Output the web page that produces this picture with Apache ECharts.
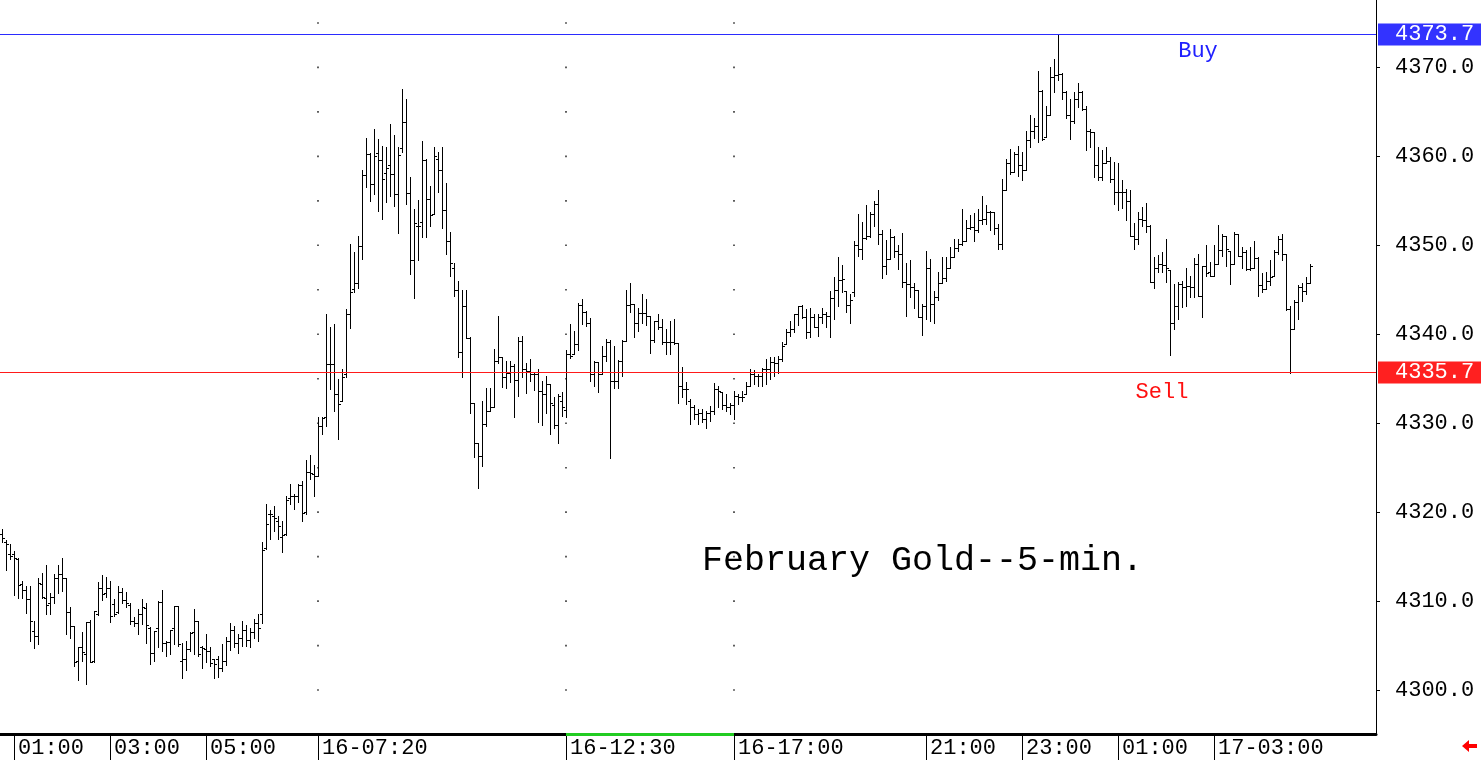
<!DOCTYPE html>
<html>
<head>
<meta charset="utf-8">
<script src="https://cdn.jsdelivr.net/npm/echarts@6/dist/echarts.min.js"></script>
<style>
html,body{margin:0;padding:0;background:#fff;}
#chart{width:1481px;height:762px;}
</style>
</head>
<body>
<div id="chart"></div>
<script>
// ---- data (5-minute OHLC bars, February Gold) ----
const opens = [
4317.5,4316.7,4315.3,4315.3,4314.7,4311.9,4311.3,4310.2,4306.6,4306.1,
4311.9,4310.4,4309.8,4310.5,4312.6,4313.0,4312.6,4308.8,4307.2,4303.3,
4304.8,4304.0,4307.6,4303.3,4308.5,4311.5,4310.9,4311.5,4309.7,4308.8,
4311.0,4310.1,4309.6,4307.8,4307.5,4308.5,4309.2,4307.0,4304.2,4307.0,
4309.9,4305.3,4305.4,4307.0,4309.4,4303.3,4303.5,4304.6,4306.5,4307.8,
4304.8,4304.6,4304.4,4303.5,4303.5,4302.5,4303.3,4305.5,4306.8,4305.3,
4305.8,4306.8,4305.6,4306.5,4307.5,4308.5,4316.0,4319.8,4319.6,4319.0,
4317.2,4317.5,4321.6,4321.8,4321.8,4323.0,4320.0,4324.5,4324.3,4324.1,
4329.7,4330.7,4336.7,4336.7,4333.3,4332.5,4335.5,4342.3,4345.1,4345.8,
4349.9,4357.9,4360.3,4356.9,4360.4,4359.6,4358.1,4359.0,4358.0,4355.8,
4360.9,4363.9,4355.9,4348.3,4352.2,4352.6,4359.6,4355.2,4353.5,4359.7,
4358.5,4354.0,4350.5,4347.5,4345.0,4338.0,4343.2,4339.6,4332.3,4327.8,
4326.3,4329.9,4331.4,4331.8,4337.0,4337.5,4335.2,4335.6,4336.4,4334.9,
4339.2,4336.1,4335.9,4335.5,4335.5,4333.6,4333.3,4334.4,4332.0,4329.8,
4332.5,4331.5,4337.8,4337.8,4338.9,4343.3,4342.5,4341.3,4335.5,4336.9,
4335.5,4337.6,4339.1,4334.8,4334.8,4337.0,4339.2,4343.3,4343.4,4341.3,
4342.4,4342.4,4342.1,4339.3,4341.5,4340.8,4339.1,4339.1,4339.1,4339.0,
4334.2,4333.8,4332.5,4331.8,4331.0,4331.2,4330.5,4331.1,4331.4,4333.8,
4333.5,4332.0,4331.8,4332.0,4333.1,4332.9,4333.3,4334.2,4335.5,4335.3,
4335.3,4336.1,4336.1,4336.9,4336.8,4337.2,4338.9,4340.2,4340.6,4342.3,
4343.2,4341.9,4340.2,4341.9,4340.8,4341.9,4342.3,4342.0,4344.1,4345.0,
4346.1,4344.9,4343.3,4344.8,4350.0,4349.6,4350.8,4351.1,4353.5,4354.7,
4351.3,4347.7,4348.5,4350.9,4349.4,4349.0,4345.9,4345.7,4345.3,4345.0,
4341.9,4343.2,4347.5,4343.4,4344.2,4345.8,4346.3,4347.5,4348.7,4349.7,
4350.2,4350.5,4352.0,4352.1,4351.7,4352.9,4353.0,4353.7,4353.7,4352.0,
4350.2,4356.2,4359.2,4358.2,4360.3,4359.0,4358.5,4361.8,4362.9,4363.4,
4367.3,4362.2,4364.6,4368.9,4369.2,4369.3,4367.2,4364.6,4364.0,4366.5,
4367.2,4365.3,4362.9,4362.7,4359.0,4357.7,4359.3,4359.5,4357.4,4356.0,
4356.0,4356.0,4355.0,4351.1,4350.7,4353.0,4352.9,4352.2,4345.9,4347.5,
4347.9,4347.8,4347.2,4341.3,4343.2,4345.7,4345.3,4345.4,4345.3,4347.9,
4344.3,4347.7,4347.0,4346.6,4347.9,4349.5,4351.1,4349.4,4347.9,4351.3,
4348.8,4349.2,4347.3,4347.5,4348.6,4345.5,4345.1,4346.0,4346.6,4349.2,
4350.7,4349.0,4342.8,4340.6,4343.6,4345.3,4344.9,4345.8
];
const highs = [
4318.1,4316.9,4316.4,4315.6,4314.8,4312.3,4311.7,4311.7,4307.8,4312.6,
4313.2,4314.1,4310.9,4313.0,4314.1,4314.9,4312.6,4309.3,4307.2,4304.8,
4306.5,4307.6,4307.9,4308.9,4312.1,4312.9,4312.7,4312.3,4310.2,4311.7,
4311.5,4311.0,4309.8,4308.2,4309.1,4310.2,4309.8,4307.1,4306.6,4310.0,
4311.3,4305.5,4306.8,4309.4,4309.4,4305.3,4305.5,4306.5,4309.1,4307.8,
4305.0,4306.3,4304.8,4303.5,4303.8,4305.2,4306.0,4307.5,4307.2,4306.3,
4307.8,4307.3,4307.0,4308.0,4308.5,4316.6,4320.9,4320.2,4320.7,4319.6,
4319.0,4321.8,4323.2,4322.0,4323.2,4323.5,4325.9,4326.4,4325.3,4330.7,
4330.7,4342.3,4340.8,4341.2,4335.0,4336.1,4342.8,4350.2,4349.2,4351.1,
4358.5,4362.1,4360.4,4363.1,4362.0,4361.2,4361.0,4363.6,4362.4,4361.1,
4367.6,4366.5,4357.7,4354.1,4355.1,4361.7,4359.7,4356.7,4361.1,4360.5,
4361.0,4357.0,4351.5,4348.0,4346.0,4345.0,4345.0,4339.7,4332.3,4327.8,
4332.5,4334.0,4334.0,4338.3,4342.0,4337.5,4337.0,4337.0,4336.7,4339.7,
4339.8,4336.8,4337.2,4335.7,4336.1,4334.8,4335.3,4334.4,4333.0,4333.3,
4333.5,4338.2,4341.1,4340.4,4343.5,4344.0,4342.6,4341.8,4337.0,4336.9,
4338.7,4339.5,4339.3,4338.7,4337.1,4339.3,4345.0,4345.8,4343.4,4343.0,
4344.5,4344.0,4342.1,4341.5,4342.3,4341.7,4340.6,4341.5,4341.7,4339.0,
4336.3,4334.6,4332.7,4332.0,4331.6,4331.6,4331.4,4331.9,4334.5,4334.2,
4333.5,4333.3,4332.3,4333.6,4333.3,4333.6,4334.6,4336.1,4336.0,4335.5,
4336.2,4337.2,4337.5,4337.4,4337.6,4339.1,4340.6,4341.5,4342.3,4343.2,
4343.3,4342.8,4343.0,4342.3,4342.3,4343.0,4342.5,4344.9,4346.4,4348.7,
4347.8,4344.9,4344.5,4350.5,4353.5,4352.6,4354.5,4353.7,4355.0,4356.2,
4351.7,4350.6,4351.8,4351.0,4350.0,4351.4,4348.0,4348.3,4345.8,4345.0,
4343.4,4349.4,4348.5,4344.9,4347.0,4348.7,4348.7,4349.8,4350.7,4350.7,
4354.1,4352.8,4353.4,4353.6,4354.1,4355.6,4354.5,4353.9,4353.7,4352.4,
4357.5,4359.7,4360.8,4360.5,4361.2,4360.5,4362.9,4364.6,4364.3,4369.6,
4367.5,4365.7,4370.1,4371.0,4373.7,4369.4,4367.4,4366.5,4367.2,4368.3,
4367.4,4365.7,4363.1,4362.7,4361.1,4360.7,4361.1,4359.9,4359.4,4359.2,
4357.3,4356.3,4356.2,4352.5,4353.8,4354.3,4354.8,4352.3,4348.7,4348.9,
4349.3,4350.7,4347.2,4345.6,4345.9,4346.0,4347.4,4346.6,4348.6,4349.0,
4347.7,4350.0,4348.1,4350.0,4352.3,4351.3,4351.1,4349.4,4351.5,4351.3,
4349.8,4349.5,4349.8,4350.5,4348.7,4346.9,4347.0,4348.4,4349.5,4351.0,
4351.3,4349.0,4343.2,4343.8,4345.5,4345.8,4346.4,4347.9
];
const lows = [
4316.6,4313.5,4314.7,4310.7,4310.4,4310.4,4308.7,4305.5,4304.7,4305.2,
4310.4,4308.5,4308.5,4309.8,4310.9,4311.1,4306.3,4305.9,4302.7,4301.1,
4303.3,4300.7,4303.1,4303.1,4308.4,4310.1,4310.5,4307.6,4308.3,4308.7,
4309.8,4309.3,4307.4,4307.2,4306.3,4307.4,4305.3,4302.9,4303.3,4304.8,
4304.4,4303.8,4304.0,4305.2,4305.0,4301.4,4302.2,4304.4,4304.0,4303.8,
4302.5,4303.1,4302.7,4301.4,4301.5,4302.1,4302.8,4304.5,4304.8,4304.2,
4305.0,4305.0,4304.8,4305.8,4305.5,4307.5,4315.9,4317.0,4317.9,4317.0,
4315.5,4317.4,4320.9,4320.3,4321.1,4319.0,4319.8,4323.7,4321.8,4324.1,
4328.8,4329.7,4333.8,4331.4,4328.2,4332.5,4335.2,4340.7,4344.7,4345.2,
4348.5,4356.6,4355.0,4355.8,4353.9,4353.0,4354.9,4355.5,4354.4,4351.4,
4360.5,4354.7,4346.8,4344.1,4348.4,4350.9,4350.9,4352.2,4353.5,4356.0,
4352.0,4349.0,4346.5,4344.3,4337.5,4335.2,4339.6,4331.1,4326.2,4322.7,
4325.2,4329.7,4331.4,4331.8,4336.8,4334.1,4334.0,4334.6,4330.7,4333.1,
4335.2,4333.4,4334.8,4333.7,4330.1,4329.8,4331.2,4328.8,4329.5,4327.8,
4330.8,4330.7,4337.3,4337.8,4338.2,4341.1,4340.9,4334.8,4334.2,4333.5,
4335.5,4337.0,4326.1,4334.0,4334.0,4335.3,4339.2,4342.5,4339.7,4340.4,
4341.3,4341.0,4337.9,4339.1,4340.6,4338.9,4337.8,4337.8,4338.9,4332.3,
4332.9,4332.2,4329.9,4330.5,4329.9,4330.1,4329.5,4330.3,4331.0,4331.8,
4331.6,4331.4,4331.0,4330.5,4332.2,4332.5,4333.3,4334.2,4334.4,4334.2,
4334.2,4334.4,4335.0,4335.3,4335.6,4337.0,4338.9,4339.8,4340.2,4341.0,
4341.8,4339.6,4339.7,4340.8,4339.8,4341.3,4340.8,4339.7,4341.7,4343.2,
4344.7,4342.5,4341.3,4344.3,4348.8,4348.5,4350.7,4350.9,4352.2,4350.2,
4346.3,4346.8,4348.5,4348.7,4347.3,4345.3,4342.0,4344.2,4343.0,4341.9,
4339.9,4341.7,4341.5,4341.3,4343.8,4345.8,4346.0,4347.5,4348.7,4349.4,
4350.0,4350.5,4351.8,4350.5,4351.5,4352.4,4352.4,4351.7,4351.3,4349.6,
4349.6,4356.2,4358.0,4358.2,4357.8,4357.3,4358.5,4361.0,4362.1,4361.6,
4361.8,4362.2,4364.6,4367.2,4368.6,4366.5,4364.3,4362.0,4363.7,4365.5,
4365.2,4360.7,4361.0,4357.7,4357.3,4357.3,4359.2,4357.1,4354.7,4354.0,
4354.2,4352.9,4351.1,4349.6,4350.2,4352.2,4351.5,4345.9,4345.2,4347.0,
4347.0,4345.9,4337.7,4340.6,4341.7,4343.1,4343.2,4344.2,4344.2,4344.3,
4341.9,4346.6,4346.6,4346.6,4347.9,4348.8,4347.7,4345.7,4347.9,4348.8,
4347.5,4347.2,4347.2,4347.5,4344.3,4344.7,4345.1,4345.5,4346.6,4349.0,
4348.3,4342.7,4335.7,4340.6,4341.7,4343.7,4344.5,4345.8
];
const closes = [
4317.1,4316.4,4315.1,4314.8,4311.8,4311.3,4310.2,4307.8,4306.1,4312.0,
4310.5,4309.6,4310.5,4312.6,4313.1,4312.6,4308.8,4307.2,4303.2,4304.8,
4304.3,4307.6,4303.2,4308.9,4311.5,4310.8,4311.5,4308.3,4308.6,4311.0,
4310.1,4309.8,4307.8,4307.5,4308.5,4309.3,4307.3,4304.2,4306.6,4309.9,
4305.3,4305.4,4306.7,4309.4,4305.2,4303.5,4304.6,4306.4,4307.8,4304.0,
4304.7,4304.4,4303.0,4302.9,4302.5,4303.3,4305.5,4306.8,4305.3,4305.8,
4306.8,4305.6,4306.5,4307.5,4307.0,4315.8,4318.7,4319.8,4319.4,4318.5,
4317.4,4321.4,4321.8,4321.8,4323.0,4319.9,4324.5,4324.4,4324.1,4329.7,
4330.6,4336.7,4336.7,4333.3,4332.2,4335.2,4342.3,4344.7,4345.8,4349.9,
4357.9,4360.3,4356.9,4360.0,4359.6,4357.5,4358.7,4358.0,4355.8,4360.2,
4363.9,4355.9,4348.3,4352.5,4352.2,4359.6,4355.2,4353.4,4360.0,4358.5,
4354.0,4350.5,4348.0,4345.0,4338.0,4343.2,4339.6,4332.3,4327.8,4326.3,
4329.9,4331.4,4331.8,4337.0,4337.5,4335.2,4335.6,4336.4,4334.9,4339.2,
4336.1,4335.9,4335.5,4335.5,4333.6,4333.3,4334.4,4332.3,4329.8,4333.1,
4331.8,4337.8,4337.6,4338.9,4343.3,4342.5,4341.3,4335.5,4336.9,4335.5,
4337.6,4339.1,4334.8,4334.8,4337.0,4339.2,4343.3,4343.4,4341.3,4342.4,
4342.4,4342.1,4339.3,4341.5,4340.8,4339.1,4339.1,4339.1,4339.0,4334.2,
4333.8,4333.8,4331.8,4331.0,4331.2,4330.5,4331.1,4331.4,4333.8,4333.6,
4332.0,4331.8,4332.0,4333.1,4332.9,4332.9,4334.2,4335.5,4335.3,4335.3,
4336.1,4336.1,4336.9,4336.8,4337.2,4338.7,4340.2,4340.6,4342.3,4343.2,
4341.9,4340.2,4341.9,4340.8,4341.9,4342.3,4342.0,4344.1,4345.0,4346.1,
4346.2,4343.3,4343.8,4350.0,4349.6,4350.8,4351.1,4353.5,4354.7,4351.3,
4347.7,4348.5,4350.9,4349.4,4349.0,4345.9,4345.7,4345.3,4345.0,4341.9,
4343.2,4347.5,4343.4,4344.2,4345.8,4346.3,4347.5,4348.7,4349.7,4350.2,
4350.5,4352.0,4352.1,4351.7,4352.9,4353.0,4353.7,4353.7,4352.0,4350.2,
4356.2,4359.2,4358.2,4360.3,4359.0,4358.5,4361.8,4362.9,4363.4,4367.3,
4362.0,4364.6,4368.9,4369.2,4369.3,4367.2,4364.6,4364.0,4366.5,4367.2,
4365.3,4362.9,4362.7,4359.0,4357.7,4359.3,4359.5,4357.4,4356.0,4356.0,
4356.0,4355.0,4351.1,4350.7,4353.0,4352.9,4352.2,4345.9,4347.5,4347.9,
4347.8,4347.5,4341.3,4343.2,4345.7,4345.3,4345.4,4345.3,4347.9,4344.3,
4347.7,4346.9,4346.6,4347.9,4349.5,4351.1,4349.6,4347.9,4351.3,4348.8,
4349.2,4347.3,4347.5,4348.6,4345.5,4345.1,4346.0,4346.4,4349.2,4350.7,
4349.0,4342.8,4340.6,4343.6,4345.3,4344.9,4345.8,4347.7
];

// sessions of 5-minute bars (category axis slots, incl. empty space on the right)
const sessions = [ { start: "00:45", bars: 183 }, { start: "17:00", bars: 161 } ];
// x-axis tick labels and the bar slot where each sits
const xTickLabels = ["01:00","03:00","05:00","16-07:20","16-12:30","16-17:00","21:00","23:00","01:00","17-03:00"];
const xTickSlots  = [3, 27, 51, 79, 141, 183, 231, 255, 279, 303];
// y-axis tick labels
const yTickValues = [4300, 4310, 4320, 4330, 4340, 4350, 4360, 4370];
// reference levels
const buyLevel = 4373.7;
const sellLevel = 4335.7;
const lastPrice = 4347.7;
// session-break dotted verticals and their dot levels
const sessionBreakSlots = [79, 141, 183];
const dotLevels = [4300,4305,4310,4315,4320,4325,4330,4335,4340,4345,4350,4355,4360,4365,4370,4375];
const highlightRange = [141, 183];

const Y_MIN = 4295.06, Y_MAX = 4377.58;
const MONO = "'Liberation Mono','DejaVu Sans Mono',monospace";

// build categories (time strings)
const categories = [];
sessions.forEach(s => {
  let [h, m] = s.start.split(":").map(Number);
  for (let i = 0; i < s.bars; i++) {
    categories.push(String(h).padStart(2,"0") + ":" + String(m).padStart(2,"0"));
    m += 5; if (m >= 60) { m -= 60; h = (h + 1) % 24; }
  }
});
const tickMap = {};
xTickSlots.forEach((s, i) => tickMap[s] = xTickLabels[i]);
const isTick = (i) => Object.prototype.hasOwnProperty.call(tickMap, i);

const ohlc = opens.map((o, i) => [i, o, highs[i], lows[i], closes[i]]);
const dots = [];
sessionBreakSlots.forEach(s => dotLevels.forEach(v => dots.push([s, v])));

const chart = echarts.init(document.getElementById('chart'), null, { renderer: 'canvas' });

function renderBar(params, api) {
  const i = api.value(0);
  const pO = api.coord([i, api.value(1)]);
  const pH = api.coord([i, api.value(2)]);
  const pL = api.coord([i, api.value(3)]);
  const pC = api.coord([i, api.value(4)]);
  const px = Math.round(pH[0]);
  const xc = px + 0.5;
  const st = { stroke: '#000', lineWidth: 1 };
  const yo = Math.round(pO[1]) + 0.5, yc = Math.round(pC[1]) + 0.5;
  return {
    type: 'group',
    children: [
      { type: 'line', shape: { x1: xc, y1: Math.round(pH[1]), x2: xc, y2: Math.round(pL[1]) + 1 }, style: st },
      { type: 'line', shape: { x1: px - 2, y1: yo, x2: px, y2: yo }, style: st },
      { type: 'line', shape: { x1: px + 1, y1: yc, x2: px + 3, y2: yc }, style: st }
    ]
  };
}

const boxLabel = (text, bg) => ({
  show: true, position: 'end', distance: 2, formatter: text,
  color: '#fff', backgroundColor: bg, fontFamily: MONO, fontSize: 22,
  lineHeight: 19, padding: [2, 10, 1, 17]
});

const option = {
  animation: false,
  backgroundColor: '#ffffff',
  title: {
    text: 'February Gold--5-min.', left: 697, top: 538,
    textStyle: { fontFamily: MONO, fontSize: 35, fontWeight: 'normal', color: '#000' }
  },
  grid: { left: 0, right: 105, top: 0, bottom: 28, containLabel: false },
  xAxis: {
    type: 'category', data: categories, boundaryGap: true,
    axisLine: { show: true, lineStyle: { color: '#000', width: 3 } },
    axisTick: { show: true, alignWithLabel: true, interval: (i) => isTick(i), length: 26, lineStyle: { color: '#000', width: 1 } },
    axisLabel: {
      interval: (i) => isTick(i), formatter: (v, i) => tickMap[i] || '',
      fontFamily: MONO, fontSize: 22, color: '#000', align: 'left',
      padding: [0, 0, 0, 4], margin: 3, lineHeight: 22
    },
    splitLine: { show: false }
  },
  yAxis: {
    type: 'value', position: 'right', min: Y_MIN, max: Y_MAX, scale: true,
    axisLine: { show: true, lineStyle: { color: '#000', width: 1 } },
    axisTick: { show: true, customValues: yTickValues, length: 4, lineStyle: { color: '#000' } },
    axisLabel: {
      customValues: yTickValues, formatter: (v) => Number(v).toFixed(1),
      fontFamily: MONO, fontSize: 22, color: '#000', margin: 19, align: 'left'
    },
    splitLine: { show: false }
  },
  series: [
    {
      type: 'scatter', data: dots, symbol: 'rect', symbolSize: 1.6, silent: true,
      itemStyle: { color: '#000' }, z: 1
    },
    {
      type: 'custom', data: ohlc, renderItem: renderBar, clip: true,
      encode: { x: 0, y: [1, 2, 3, 4] }, z: 3,
      markLine: {
        symbol: ['none', 'none'], silent: true, animation: false, precision: 1,
        data: [
          { yAxis: buyLevel, lineStyle: { color: '#2b2bff', width: 1, type: 'solid', opacity: 1 }, label: boxLabel(buyLevel.toFixed(1), '#3333ff') },
          { yAxis: sellLevel, lineStyle: { color: '#ff1a1a', width: 1, type: 'solid', opacity: 1 }, label: boxLabel(sellLevel.toFixed(1), '#ff2020') },
          { yAxis: lastPrice, lineStyle: { color: '#000', width: 1, opacity: 0 }, label: boxLabel(lastPrice.toFixed(1), '#1e1e1e') },
          [
            { coord: [highlightRange[0], Y_MIN], lineStyle: { color: '#22cc22', width: 3, type: 'solid' }, label: { show: false } },
            { coord: [highlightRange[1], Y_MIN] }
          ]
        ]
      },
      markPoint: {
        silent: true, symbol: 'circle', symbolSize: 1,
        itemStyle: { color: 'rgba(0,0,0,0)' },
        data: [
          { coord: [299, 4371.8], label: { show: true, position: 'inside', formatter: 'Buy', color: '#2020ff', fontFamily: MONO, fontSize: 22 } },
          { coord: [290, 4333.5], label: { show: true, position: 'inside', formatter: 'Sell', color: '#ff1010', fontFamily: MONO, fontSize: 22 } }
        ]
      }
    }
  ],
  graphic: [
    { type: 'polygon', silent: true,
      shape: { points: [[1462,746],[1469,740],[1469,744],[1477,744],[1477,748],[1469,748],[1469,752]] },
      style: { fill: '#ff0000' } }
  ]
};
chart.setOption(option);
</script>
</body>
</html>
